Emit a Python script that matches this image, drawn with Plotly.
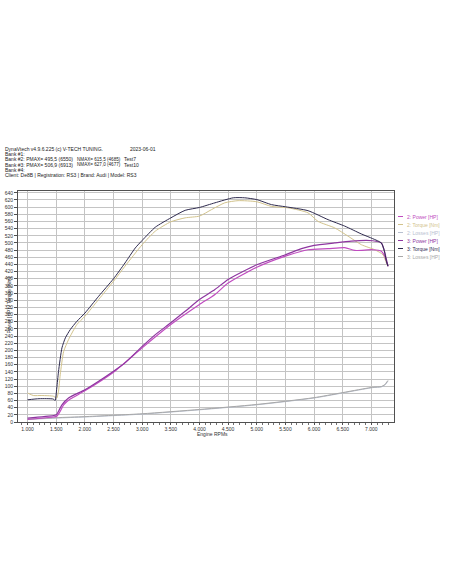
import plotly.graph_objects as go

# ---- data ----
rpm_t3 = [1000, 1200, 1450, 1480, 1510, 1540, 1600, 1660, 1745, 1860, 2000, 2240, 2500, 2700, 2880, 3000, 3230, 3500, 3750, 4000, 4270, 4590, 4790, 5000, 5256, 5500, 5895, 6244, 6535, 6826, 7023, 7174, 7221, 7262, 7290]
torque3 = [62, 65, 64, 60, 95, 141, 207, 235, 258, 281, 304, 351, 400, 444, 486, 507, 544, 570, 591, 599, 612, 626, 626, 621, 607, 601, 590, 565, 547, 525, 512, 500, 481, 449, 435]

rpm_t2 = [1000, 1100, 1250, 1450, 1500, 1512, 1540, 1570, 1630, 1715, 1860, 2000, 2240, 2500, 2700, 3000, 3230, 3500, 3750, 4000, 4210, 4442, 4674, 5000, 5256, 5547, 5895, 6070, 6360, 6593, 6826, 7058, 7203, 7262, 7290]
torque2 = [81, 74, 74, 72, 67, 67, 86, 132, 197, 230, 272, 295, 342, 393, 435, 495, 533, 559, 570, 575, 593, 612, 618, 615, 602, 598, 584, 560, 542, 519, 495, 481, 467, 444, 435]

rpm_p3 = [1000, 1450, 1500, 1540, 1600, 1715, 2000, 2240, 2500, 2700, 3000, 3230, 3500, 3750, 4000, 4270, 4500, 5000, 5500, 5780, 6000, 6360, 6650, 6913, 7023, 7174, 7221, 7290]
power3 = [11, 18, 20, 30, 48, 67, 90, 114, 142, 165, 211, 244, 277, 309, 342, 370, 398, 439, 467, 484, 493, 500, 505, 507, 506, 500, 481, 435]

rpm_p2 = [1000, 1450, 1510, 1570, 1630, 1745, 2000, 2500, 3000, 3500, 4000, 4270, 4500, 5000, 5500, 5895, 6244, 6535, 6710, 7023, 7174, 7233, 7290]
power2 = [7, 14, 16, 30, 48, 64, 87, 139, 207, 272, 328, 356, 388, 432, 463, 481, 484, 487, 479, 481, 477, 463, 435]

rpm_loss = [1000, 1500, 2000, 3000, 4000, 5000, 6000, 7023, 7174, 7230, 7290]
losses2 = [7, 11, 14, 22, 34, 48, 67, 96, 98, 102, 114]
losses3 = [8, 12, 15, 23, 35, 49, 68, 97, 99, 104, 116]

x_ticks = [1000, 1500, 2000, 2500, 3000, 3500, 4000, 4500, 5000, 5500, 6000, 6500, 7000]
x_labels = ["1.000", "1.500", "2.000", "2.500", "3.000", "3.500", "4.000", "4.500", "5.000", "5.500", "6.000", "6.500", "7.000"]
y_ticks = list(range(0, 641, 20))

header = [
    "DynaVtech v4.9.6.225 (c) V-TECH TUNING.",
    "Bank #1:",
    "Bank #2: PMAX= 495,5 (6550)",
    "Bank #3: PMAX= 506,9 (6913)",
    "Bank #4:",
    "Client: De8B | Registration: RS3 | Brand: Audi | Model: RS3",
]
header_date = "2023-06-01"
nmax_text = ["NMAX= 615,5 (4685)", "NMAX= 627,0 (4677)"]
test_text = ["Test7", "Test10"]

legend_names = ["2: Power [HP]", "2: Torque [Nm]", "2: Losses [HP]", "3: Power [HP]", "3: Torque [Nm]", "3: Losses [HP]"]
colors = ["#c04cc0", "#d2c38c", "#b8c0d0", "#8e36a0", "#2e2a4e", "#a8a8a8"]

FONT = "Liberation Sans"

# plot-area geometry in pixels
L, R, T, B = 18, 394, 191, 422
W, H = 452, 584

fig = go.Figure()
series = [
    (rpm_loss, losses2, colors[2], 1.0),
    (rpm_loss, losses3, colors[5], 1.0),
    (rpm_t2, torque2, colors[1], 1.0),
    (rpm_p2, power2, colors[0], 1.2),
    (rpm_p3, power3, colors[3], 1.2),
    (rpm_t3, torque3, colors[4], 1.0),
]
for xs, ys, c, w in series:
    fig.add_trace(go.Scatter(x=xs, y=ys, mode="lines", line=dict(color=c, width=w, shape="spline", smoothing=0.6),
                             showlegend=False, hoverinfo="skip"))

fig.update_layout(
    width=W, height=H,
    margin=dict(l=L, r=W - R, t=T, b=H - B, autoexpand=False),
    paper_bgcolor="white", plot_bgcolor="white",
    font=dict(family=FONT, size=5, color="#222222"),
    showlegend=False,
)
fig.update_xaxes(
    range=[833, 7395], tickvals=x_ticks, ticktext=x_labels, automargin=False,
    showgrid=True, gridcolor="#c4c4c4", gridwidth=1,
    showline=True, linecolor="#505050", linewidth=1, mirror=True,
    ticks="outside", ticklen=2, tickcolor="#505050", tickfont=dict(size=5, color="#333333"),
    minor=dict(dtick=100, ticks="outside", ticklen=2, tickcolor="#707070", showgrid=False),
    zeroline=False,
)
fig.update_yaxes(
    range=[0, 645], tickvals=y_ticks, automargin=False,
    showgrid=True, gridcolor="#c4c4c4", gridwidth=1,
    showline=True, linecolor="#505050", linewidth=1, mirror=True,
    ticks="outside", ticklen=3, tickcolor="#505050", tickfont=dict(size=5, color="#333333"),
    zeroline=False,
)

def px(xp):
    return (xp - L) / float(R - L)

def py(yp):
    return (B - yp) / float(B - T)

# axis titles
fig.add_annotation(text="Power [HP] / Torque [Nm]", x=px(3.5), y=py(305), xref="paper", yref="paper",
                   showarrow=False, textangle=-90, font=dict(size=5, color="#333333"))
fig.add_annotation(text="Engine RPMs", x=px(212), y=py(438.5), xref="paper", yref="paper",
                   showarrow=False, font=dict(size=5, color="#333333"))

# header text
header_y = [149, 154, 159.5, 164.5, 169.5, 174.5]
for t, yy in zip(header, header_y):
    fig.add_annotation(text=t, x=px(3), y=py(yy), xref="paper", yref="paper", xanchor="left", yanchor="middle",
                       showarrow=False, font=dict(size=5, color="#222222"))
fig.add_annotation(text=header_date, x=px(128), y=py(149), xref="paper", yref="paper", xanchor="left",
                   yanchor="middle", showarrow=False, font=dict(size=5, color="#222222"))
for t, yy in zip(nmax_text, header_y[2:4]):
    fig.add_annotation(text=t, x=px(75), y=py(yy), xref="paper", yref="paper", xanchor="left", yanchor="middle",
                       showarrow=False, font=dict(size=4.6, color="#222222"))
for t, yy in zip(test_text, header_y[2:4]):
    fig.add_annotation(text=t, x=px(122), y=py(yy), xref="paper", yref="paper", xanchor="left", yanchor="middle",
                       showarrow=False, font=dict(size=5, color="#222222"))

# legend
leg_y = [216.5, 224.5, 232.5, 240.5, 248.5, 256.5]
for name, c, yy in zip(legend_names, colors, leg_y):
    fig.add_shape(type="line", x0=px(398), x1=px(403), y0=py(yy), y1=py(yy), xref="paper", yref="paper",
                  line=dict(color=c, width=1))
    fig.add_annotation(text=name, x=px(405), y=py(yy), xref="paper", yref="paper", xanchor="left",
                       yanchor="middle", showarrow=False, font=dict(size=5, color=c))

fig.write_html("out.html", config={"displayModeBar": False},
               post_script="document.body.style.margin='0px';document.body.style.overflow='hidden';")
